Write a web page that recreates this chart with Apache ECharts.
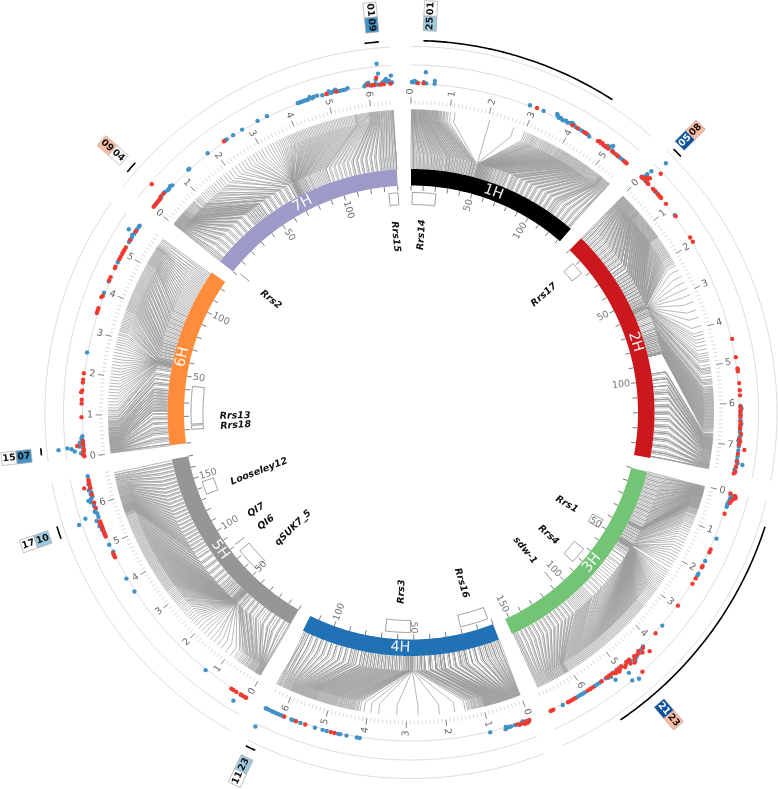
<!DOCTYPE html>
<html><head><meta charset="utf-8">
<style>html,body{margin:0;padding:0;background:#fff}#c{width:778px;height:789px}</style>
<script src="https://cdn.jsdelivr.net/npm/echarts@6/dist/echarts.min.js"></script>
</head><body><div id="c"></div>
<script>
const chrNames=['1H','2H','3H','4H','5H','6H','7H'];
const chrColors=['#000000','#cb181d','#74c476','#2171b5','#969696','#fd8d3c','#9e9ac8'];
const chrMb=[558,768,700,647,670,583,657];
const chrCM=[132,148,153,116,170,126,140];

// markers as [cM, Mb]
const links1H=[[0,1],[1,2],[2,3],[3,5],[4,6],[5,8],[7,9],[8,11],[10,13],[11,15],[13,18],[14,20],[16,22],[18,25],[20,28],[22,32],[24,35],[25,38],[27,41],[29,44],[31,48],[33,52],[35,55],[37,60],[39,64],[41,68],[43,72],[44,78],[45,85],[46,92],[47,114],[48,205],[48,270],[49,305],[49,318],[50,328],[50,335],[51,342],[51,350],[52,356],[52,362],[53,368],[53,373],[54,379],[54,384],[55,390],[56,395],[56,400],[57,404],[58,409],[59,413],[60,417],[61,421],[63,425],[64,429],[66,433],[67,437],[69,441],[70,445],[72,449],[74,453],[76,457],[77,461],[79,465],[81,469],[83,473],[85,477],[87,481],[89,484],[91,488],[93,492],[95,496],[97,500],[99,504],[101,508],[103,512],[105,516],[107,520],[109,523],[111,526],[113,528],[115,530],[117,533],[119,536],[121,539],[123,542],[125,545],[127,548],[129,552],[131,556]];
const links2H=[[0,1],[1,3],[2,5],[3,8],[4,10],[6,12],[7,15],[8,18],[10,21],[11,24],[13,26],[14,29],[16,32],[17,35],[19,38],[20,41],[22,44],[23,48],[25,51],[26,54],[27,57],[29,60],[30,64],[31,68],[33,72],[34,76],[35,80],[36,84],[38,88],[39,92],[40,96],[41,100],[42,104],[43,108],[44,112],[45,116],[46,120],[47,124],[48,128],[49,132],[50,136],[51,140],[52,146],[52,152],[53,158],[53,164],[54,170],[54,176],[55,182],[55,188],[55,194],[56,200],[56,208],[56,216],[57,226],[57,240],[57,258],[57,275],[57,292],[57,310],[57,330],[57,352],[57,372],[57,395],[57,410],[57,418],[57,428],[58,436],[58,446],[59,456],[59,466],[60,478],[60,488],[61,498],[61,505],[62,512],[63,520],[64,528],[65,535],[66,542],[67,548],[68,554],[69,560],[70,565],[71,570],[72,574],[73,578],[73,582],[74,586],[75,590],[75,594],[76,598],[77,602],[77,606],[78,610],[79,614],[79,618],[80,622],[81,626],[81,630],[82,634],[83,638],[83,642],[84,646],[84,650],[85,654],[85,658],[85,662],[85,667],[96,676],[97,679],[99,682],[100,685],[102,688],[104,691],[106,694],[107,697],[109,700],[111,703],[113,706],[115,709],[117,712],[119,715],[121,718],[123,722],[125,726],[127,730],[129,734],[131,738],[133,742],[135,746],[137,750],[139,754],[141,757],[143,760],[145,763],[147,766]];
const links3H=[[0,2],[1,3],[3,5],[4,6],[6,8],[7,9],[9,11],[10,12],[12,13],[13,15],[15,16],[16,17],[18,18],[19,20],[21,22],[22,23],[24,24],[25,26],[27,27],[28,29],[30,30],[31,32],[33,34],[34,36],[36,38],[37,40],[37,43],[37,46],[37,49],[38,52],[38,55],[38,58],[38,61],[39,64],[39,68],[40,72],[41,76],[42,82],[43,88],[44,96],[45,104],[46,114],[47,126],[48,140],[49,156],[50,172],[50,188],[50,204],[50,220],[51,238],[51,250],[51,262],[51,272],[51,282],[51,292],[51,300],[51,308],[51,316],[51,324],[51,332],[51,340],[51,348],[51,354],[51,360],[51,366],[51,372],[51,378],[51,384],[51,390],[51,396],[51,402],[51,408],[51,414],[51,420],[51,426],[52,432],[52,438],[52,444],[52,450],[52,456],[52,462],[53,468],[53,474],[54,480],[55,486],[56,492],[58,498],[60,504],[63,510],[66,516],[70,522],[74,528],[78,534],[82,540],[85,546],[88,552],[91,558],[94,564],[96,570],[98,576],[100,582],[102,588],[104,594],[106,600],[108,606],[111,610],[114,614],[117,618],[120,624],[123,630],[126,636],[129,642],[132,648],[135,654],[138,660],[141,667],[144,674],[147,681],[150,688],[152,696]];
const links4H=[[0,1],[1,3],[2,5],[4,7],[5,10],[6,13],[8,16],[10,19],[11,22],[13,25],[15,28],[16,31],[18,34],[20,37],[22,40],[23,44],[25,47],[27,50],[28,54],[30,57],[31,60],[33,64],[34,68],[36,71],[37,75],[38,79],[40,83],[41,87],[42,92],[44,97],[45,102],[46,108],[47,115],[48,122],[49,130],[50,138],[50,148],[51,175],[51,215],[51,270],[51,325],[51,372],[51,392],[51,410],[52,425],[52,432],[52,438],[53,443],[53,448],[54,453],[54,458],[55,463],[56,468],[57,472],[58,477],[59,482],[60,486],[61,490],[62,494],[63,498],[64,502],[65,506],[66,510],[67,514],[68,518],[69,522],[70,526],[71,530],[72,534],[73,538],[74,541],[75,544],[76,547],[77,550],[78,553],[79,556],[80,559],[82,562],[83,565],[85,568],[86,571],[88,574],[89,577],[91,580],[92,583],[94,586],[95,589],[97,592],[98,595],[100,598],[101,601],[103,604],[104,608],[106,612],[107,616],[109,620],[110,624],[112,628],[113,633],[115,640]];
const links5H=[[0,2],[3,4],[6,6],[9,8],[12,10],[15,12],[18,14],[21,16],[23,18],[26,22],[28,26],[30,30],[32,34],[34,38],[36,43],[38,48],[40,54],[41,60],[42,68],[43,78],[44,95],[45,125],[45,150],[45,172],[45,192],[45,212],[45,228],[45,242],[45,256],[45,268],[45,278],[46,288],[46,296],[46,304],[46,312],[46,320],[46,328],[46,334],[46,340],[46,346],[47,352],[47,358],[47,364],[47,370],[48,376],[48,382],[48,388],[49,394],[49,400],[50,406],[51,412],[52,418],[53,424],[54,430],[55,436],[56,442],[57,448],[58,454],[60,460],[61,466],[63,472],[65,478],[67,484],[69,490],[71,496],[74,502],[76,508],[79,514],[81,520],[84,526],[86,532],[89,538],[92,544],[94,550],[97,555],[100,559],[103,562],[106,565],[109,568],[112,571],[115,574],[118,577],[121,580],[124,584],[127,588],[130,592],[133,596],[136,600],[139,605],[142,610],[145,615],[148,620],[151,625],[154,630],[157,636],[160,642],[163,648],[166,655],[169,665]];
const links6H=[[0,1],[1,3],[3,4],[4,6],[6,7],[8,9],[10,10],[11,12],[13,14],[15,16],[16,18],[18,20],[20,22],[22,25],[24,28],[25,31],[27,34],[29,37],[31,40],[33,44],[35,48],[37,52],[39,56],[41,60],[43,65],[45,70],[47,76],[49,82],[51,90],[53,100],[54,112],[55,126],[55,142],[55,158],[56,174],[56,190],[56,206],[56,222],[56,238],[56,254],[56,270],[56,284],[56,296],[56,308],[57,318],[57,326],[58,334],[58,342],[59,350],[60,358],[61,366],[62,374],[63,380],[64,386],[65,392],[66,398],[67,404],[68,410],[69,416],[70,422],[72,428],[73,434],[75,440],[76,446],[78,452],[79,458],[81,464],[82,470],[84,476],[85,482],[87,488],[88,494],[90,500],[92,506],[94,510],[96,514],[98,518],[100,522],[102,526],[104,530],[106,534],[108,538],[110,542],[112,546],[114,550],[116,553],[118,556],[120,560],[122,566],[124,574],[125,581]];
const links7H=[[0,1],[2,3],[4,5],[6,6],[8,8],[10,10],[12,12],[14,13],[16,15],[18,17],[20,19],[22,21],[24,23],[26,25],[28,27],[30,30],[32,33],[34,36],[36,39],[38,43],[40,47],[42,52],[44,58],[46,64],[48,72],[50,80],[52,90],[54,100],[56,112],[58,124],[60,136],[62,150],[64,165],[66,182],[68,200],[69,220],[70,240],[70,258],[71,275],[71,292],[71,310],[71,326],[71,340],[71,352],[71,362],[71,372],[71,380],[71,388],[72,396],[72,404],[72,412],[72,420],[73,428],[73,436],[74,444],[74,452],[75,460],[76,468],[77,476],[78,484],[79,492],[80,500],[82,508],[83,516],[85,524],[87,532],[89,540],[91,548],[93,556],[96,562],[99,568],[102,574],[105,580],[108,586],[111,592],[114,597],[117,602],[120,607],[123,612],[126,617],[129,622],[131,628],[133,634],[135,640],[137,646],[139,652],[140,656]];
const linksByChr=[links1H,links2H,links3H,links4H,links5H,links6H,links7H];

// further markers as rows: cM followed by the Mb positions sharing that cM
const more1H=[[2,2,4],[6,7,9],[9,10,12],[12,14,16],[15,19,21],[17,23,24],[19,26,27],[21,30,31],[23,33,34],[26,36,37,40],[28,42,43,46],[30,47,50],[32,51,54],[34,56,58],[36,59,62],[38,63,66],[40,67,70],[42,71,75],[44,76,80,84],[46,88,96,102],[49,300,310,314],[50,322,325,331],[51,338,346],[52,352,359],[53,365,371],[54,376,382],[55,387,393],[56,398],[57,402,407],[58,411],[59,415],[60,419],[62,423,427],[65,431,435],[68,439,443],[71,447,451],[75,455,459],[78,463,467],[82,471,475],[86,479,483],[90,486,490],[94,494,498],[98,502,506],[102,510,514],[106,518,521],[110,524,527],[112,529,531],[114,532],[118,534,537],[122,540,544],[126,547,550],[130,553,555,557]];
const more2H=[[1,2,4],[3,6,7,9],[5,11,13],[7,14,16,17],[9,19,20,22],[12,23,25,27],[15,28,30,31],[18,33,34,36,37],[21,39,40,42,43],[24,45,46,47,50],[27,52,53,55,56],[29,58,59,61,62],[31,63,66,67],[33,70,71,74],[35,75,78,79],[37,82,83,86,87],[39,90,91,94,95],[41,98,99,102,103],[43,106,107,110,111],[45,114,115,118,119],[47,122,123,126,127],[49,130,131,134,135],[51,138,139,143],[53,149,155,161],[55,167,173,179,185,191],[56,197,204,212,220],[60,472,484],[62,508,516],[66,538,545],[70,557,562,567],[72,572,576],[74,580,584,588],[76,592,596,600],[78,604,608,612],[80,616,620,624],[82,628,632,636],[84,640,644,648,652],[85,656,660,664,669,672],[96,678,680],[100,683,686,687],[104,689,690,692,693],[108,695,696,698,699],[112,701,702,704,705],[116,707,708,710,711],[120,713,714,716,717],[124,720,721,724,725],[128,728,729,732,733],[132,736,737,740,741],[136,744,745,748,749],[140,752,753,755,756],[144,758,759,761,762],[147,764,765,767]];
const more3H=[[2,1,4],[5,6,7],[8,9,10],[11,11,13],[14,14,16],[17,17,19],[20,21,22],[23,23,25],[26,25,27,28],[29,30,31],[32,33,35],[35,37,39],[37,41,42,44,45,47,48,50],[38,51,53,54,56,57,59,60,62],[39,66,70],[41,74,78],[43,85,92],[45,100,109],[47,120,133],[49,148,164],[50,180,196,212,228],[51,244,256,267,277,287,296,304,312,320,328,336,344,351,357,363,369,375,381,387,393,399,405,411,417,423,429],[52,435,441,447,453,459,465],[53,471,477],[55,483,489],[57,495],[60,501,507],[65,513],[68,519],[72,525],[76,531],[80,537],[84,543],[87,549],[90,555],[93,561],[95,567],[97,573],[99,579],[101,585],[103,591],[105,597],[107,603],[110,608,609],[113,612,613],[116,616,617],[119,621,622],[122,627,628],[125,633,634],[128,639,640],[131,645,646],[134,651,652],[137,657,658],[140,663,664],[143,670,671],[146,677,678],[149,684,685],[151,691,693]];
const more4H=[[1,2,4],[3,6,8],[5,9,11,12],[7,14,15],[9,17,18,20,21],[12,23,24,26,27],[15,29,30,32,33],[18,35,36,38,39],[21,41,42,43,45,46],[24,48,49,51,52,53],[27,55,56,58,59],[30,61,62,63,65,66],[33,67,69,70,72,73],[35,74,76,77,78,80,81],[38,82,84,85,86,88,89,90],[41,91,93,94,95,96,98,100],[44,104,106,110,112],[46,118,120,125,128],[48,134,142],[52,420,428,435,440],[53,445,450],[54,455,460],[55,465],[56,470],[58,474,479],[60,484,488],[62,492,496],[64,500,504],[66,508,512],[68,516,520],[70,524,528],[72,532,536],[74,539,542],[76,545,548],[78,551,554],[80,557,560],[82,563],[84,566,569],[86,572,575],[89,578,581],[92,584,587],[95,590,593],[98,596,599],[101,602,605],[104,606,610],[107,614,618],[110,622,626],[112,630,636],[114,638,643,646]];
const more5H=[[1,3,5],[5,7,9],[10,11,13],[14,15,17],[19,20,24],[25,28,32],[31,36,40],[35,46,50],[39,57,64],[41,72,84],[44,110,138,160],[45,182,202,220,235,249,262,273,283],[46,292,300,308,316,324,331,337,343,349],[47,355,361,367,373],[48,379,385,391],[49,397,403],[50,409],[52,415,421],[53,427],[55,433,439],[57,445,451],[59,457,463],[62,469,475],[66,481,487],[70,493,499],[75,505,511],[80,517,523],[85,529,535],[90,541,547],[95,552,553],[98,557,558],[101,560,561],[104,563,564],[107,566,567],[110,569,570],[113,572,573],[116,575,576],[119,578,579],[122,582,583],[125,586,587],[128,590,591],[131,594,595],[134,598,599],[137,602,603],[140,607,608],[143,612,613],[146,617,618],[149,622,623],[152,627,628],[155,633,634],[158,639,640],[161,645,646],[164,651,652],[167,658,660]];
const more6H=[[1,2,5],[5,8,9],[9,11,13],[12,15,17],[16,19,21],[19,23,24],[22,26,27],[24,29,30,32],[26,33,35,36],[28,38,39,41],[30,42,43,46],[32,47,50,51],[34,53,54,58],[36,59,62,63],[38,66,67,72],[42,74,78,80],[45,84,86],[48,94,96],[52,105,110],[54,118,134],[55,150,166],[56,182,198,214,230,246,262,277,290,302],[57,312,322,330],[58,338,346],[59,354,362],[61,370,377],[63,383,389],[65,395,401],[67,407,413],[69,419,425],[71,431,437],[74,443,449],[77,455,461],[80,467,473],[83,479,485],[86,491,497],[89,503],[91,508,512],[93,516],[95,520],[97,524],[99,528],[101,532],[103,536],[105,540],[107,544],[109,548],[111,551],[113,554],[115,555],[117,558],[119,563],[121,570],[123,578]];
const more7H=[[1,2,4],[3,6,7],[7,9,11],[11,14,16],[15,18,20],[19,22,24],[23,26,28],[27,29,31,32],[31,34,35,37],[35,38,41,42],[37,45,46,49],[39,50,54,55],[41,60,61,66],[43,68,70,74],[45,76,78,85],[49,88,94,96],[53,106,118],[57,130,142],[61,158,172],[65,190,210],[68,230,248],[70,266,283],[71,300,318,333,346,357,367,376,384,392],[72,400,408,416,424],[73,432,440],[74,448,456],[75,464],[76,472],[77,480],[78,488],[79,496],[81,504],[82,512],[84,520],[86,528],[88,536],[90,544],[92,552],[94,558,560],[97,565],[100,571],[103,577],[106,583],[109,589],[112,594,595],[115,599,600],[118,604,605],[121,609,610],[124,614,615],[127,619,620],[130,625,626],[132,631,632],[134,637,638],[136,643,644],[138,649,650],[140,654,655,657]];
const moreByChr=[more1H,more2H,more3H,more4H,more5H,more6H,more7H];

const blue1H=[[2,1],[5,1],[8,2],[12,1],[14,0],[30,1],[36,0],[34,11],[56,3],[56,0],[288,0],[323,0],[355,3],[357,2],[360,1],[363,0],[367,1],[371,0],[375,0],[381,1],[386,0],[392,1],[397,2],[403,1],[408,0],[417,0],[425,0],[434,0],[441,0],[447,-1],[495,2],[502,3],[506,5],[511,1],[517,0],[528,0],[536,0],[543,0]];
const red1H=[[17,0],[30,0],[306,0],[399,0],[413,0],[431,0],[437,0],[470,0],[474,1],[478,0],[482,1],[486,0],[490,0],[494,0],[500,0],[512,0],[522,0],[530,0],[548,0],[552,0],[556,0]];
const blue2H=[[4,2],[6,6],[8,11],[9,3],[12,1],[18,27],[14,0],[45,0],[50,0],[55,0],[121,0],[606,0],[612,1],[620,0],[628,0],[640,0],[648,1],[655,0],[662,0],[668,0],[675,1],[680,0],[688,-1],[695,0],[702,0],[712,0],[726,0],[735,0],[742,1],[744,6],[752,0],[758,-1],[764,0]];
const red2H=[[1,0],[5,0],[9,1],[12,4],[15,2],[17,5],[20,0],[24,0],[27,16],[40,0],[47,0],[58,0],[62,0],[66,0],[69,0],[87,0],[124,0],[185,0],[197,0],[446,0],[490,0],[517,0],[520,0],[524,0],[552,0],[569,0],[581,0],[608,0],[616,0],[625,0],[632,0],[644,0],[652,0],[660,0],[672,1],[684,0],[690,1],[698,0],[709,6],[720,0],[738,0],[750,0],[762,0],[767,-1]];
const blue3H=[[6,1],[12,2],[15,1],[20,1],[26,0],[30,0],[35,0],[114,1],[173,0],[207,0],[212,0],[357,0],[424,0],[432,1],[442,2],[452,3],[460,5],[468,2],[475,1],[490,10],[481,21],[495,18],[501,0],[510,1],[518,0],[524,7],[528,2],[535,1],[540,0],[558,0],[565,0],[572,0],[600,0],[606,0],[612,0],[618,0],[624,0],[660,0]];
const red3H=[[2,0],[5,5],[8,6],[11,6],[14,4],[18,3],[24,2],[52,0],[143,0],[150,0],[186,0],[190,0],[220,0],[235,0],[297,0],[381,0],[421,8],[427,1],[435,4],[440,0],[447,2],[455,1],[458,3],[464,6],[465,18],[470,0],[473,4],[478,0],[484,2],[488,3],[494,0],[499,1],[505,3],[508,0],[514,2],[520,0],[526,0],[531,0],[537,0],[552,0],[578,0],[585,0],[592,0],[628,0],[634,0],[640,0],[646,0],[685,0],[689,0],[692,0]];
const blue4H=[[4,1],[8,0],[12,1],[18,-1],[22,0],[28,1],[38,0],[48,0],[54,0],[60,-1],[62,1],[99,0],[410,0],[417,0],[442,0],[457,0],[462,0],[490,0],[500,0],[519,0],[555,0],[573,0],[578,0],[600,0],[606,0],[612,0],[618,0],[624,0],[628,0],[634,0],[640,0],[644,0],[647,21]];
const red4H=[[2,0],[5,1],[8,2],[11,0],[14,2],[18,1],[25,1],[32,0],[471,0],[480,0],[543,0],[566,0],[596,0]];
const blue5H=[[27,9],[18,0],[121,0],[373,0],[409,0],[472,0],[480,-1],[499,0],[528,0],[538,1],[544,0],[548,2],[556,1],[566,21],[562,3],[575,13],[570,0],[578,0],[584,2],[590,0],[598,1],[604,0],[608,3],[612,5],[615,2],[620,0],[626,1],[630,0],[636,2],[642,0],[650,1],[669,0]];
const red5H=[[5,0],[8,0],[14,0],[20,0],[32,0],[40,0],[46,0],[466,0],[470,0],[476,0],[520,0],[524,0],[528,0],[532,0],[536,0],[540,0],[543,0],[546,0],[550,0],[554,0],[558,0],[592,0],[605,0],[625,0],[640,0],[643,6],[648,0],[652,0],[656,0],[660,0]];
const blue6H=[[23,25],[25,16],[22,12],[16,9],[26,4],[35,3],[10,3],[6,1],[12,1],[18,0],[26,0],[32,0],[40,0],[45,1],[50,0],[249,0],[396,0],[425,0],[475,0],[530,0],[536,0],[542,0],[548,1],[552,0],[555,7],[558,0],[565,0],[572,0],[576,0]];
const red6H=[[2,0],[7,1],[14,0],[20,0],[28,6],[30,0],[38,0],[95,0],[127,0],[136,0],[158,0],[154,1],[177,0],[184,0],[199,0],[345,0],[351,0],[357,0],[384,1],[388,0],[428,0],[436,0],[460,0],[463,0],[483,0],[490,0],[498,0],[503,0],[508,0],[515,0],[535,0],[560,0]];
const blue7H=[[10,0],[16,0],[30,0],[36,1],[48,1],[55,0],[60,0],[66,1],[71,0],[124,0],[127,0],[184,0],[236,0],[240,0],[258,0],[283,0],[325,0],[350,0],[429,0],[433,0],[437,0],[441,0],[445,0],[450,0],[455,0],[460,2],[465,0],[470,1],[478,1],[490,0],[503,0],[507,2],[512,0],[518,1],[523,2],[529,0],[535,0],[541,0],[546,0],[552,1],[592,0],[597,2],[602,3],[606,0],[612,0],[618,1],[620,5],[624,0],[626,21],[627,11],[632,0],[636,2],[640,3],[644,5],[648,2],[651,3],[656,8],[658,1]];
const red7H=[[4,0],[8,0],[14,0],[20,0],[24,0],[28,0],[32,1],[41,16],[43,1],[232,0],[500,0],[524,0],[600,1],[610,0],[616,0],[622,7],[630,0],[638,0],[654,0]];
const blueDots=[blue1H,blue2H,blue3H,blue4H,blue5H,blue6H,blue7H];
const redDots=[red1H,red2H,red3H,red4H,red5H,red6H,red7H];

// QTL: chromosome index, start cM, end cM
const qtlChr=[0,6,1,2,2,2,3,3,4,4,4,5,5,6];
const qtlFrom=[1,133,8,45,72,107,2,52,52,81,133,14,10,2];
const qtlTo=[21,140,17,52,85,107,20,68,74,81,145,43,13,2];
// gene labels and their placing (degrees clockwise from north, radius)
const geneNames=['Rrs14','Rrs15','Rrs17','Rrs1','Rrs4','sdw-1','Rrs16','Rrs3','qSUK7_5','QI6','QI7','Looseley12','Rrs18','Rrs13','Rrs2'];
const geneAngle=[3.4,355,48.5,120.5,131.7,140.4,163.5,183,225.6,232.8,237.8,248.8,265.8,268.9,308.8];
const geneRadius=[178,176.5,177.5,180.7,184,179,178,179.4,165,182,183,163,175.8,176,180];
// black arcs: chromosome, from Mb, to Mb
const arcChr=[0,1,2,3,4,5,6,6];
const arcFrom=[26,8,52,625,551,16,26,605];
const arcTo=[446,30,567,647,578,31,52,635];
// coloured pair boxes on the rim
const pairAngle=[2.8,45.2,139.5,205.4,251,263.5,311.3,354.2];
const pairRadius=[397,393.5,397,397,397,397,397,397];
const pairOuter=['01','08','23','11','17','15','09','01'];
const pairInner=['25','05','21','23','10','07','04','09'];
const pairOuterFill=['#ffffff','#fcbba1','#fcbba1','#ffffff','#ffffff','#ffffff','#fcbba1','#ffffff'];
const pairInnerFill=['#9ecae1','#08519c','#08519c','#9ecae1','#9ecae1','#4292c6','#ffffff','#4292c6'];

const GAP=3.3, DEG_PER_MB=0.0735;
const chrStart=[]; {let a=0; chrMb.forEach(m=>{chrStart.push(a); a+=m*DEG_PER_MB+GAP;});}
const angMb=(c,mb)=>chrStart[c]+mb*DEG_PER_MB;
const angCM=(c,cm)=>chrStart[c]+cm*(chrMb[c]*DEG_PER_MB/chrCM[c]);
const R={bandIn:227,bandOut:243.5,k1:258,k2:293,lkEnd:303,minIn:308,minOut:312,majIn:309,majOut:315.5,mbLab:318,base:329.5,ring2:347.5,ring3:366,hi:372,cmTick:222,cmLab:221,qIn:208,qOut:220};
const rad=d=>d*Math.PI/180;
const radialRot=t=>rad(t<180?90-t:270-t);
const FONT='"DejaVu Sans"';

function seriesCustom(data,render,z){
  return {type:'custom',coordinateSystem:'polar',data:data,renderItem:render,silent:true,animation:false,z:z||2,clip:false};
}
function idx(n){const o=[];for(let i=0;i<n;i++)o.push([i]);return o;}
function arcPts(api,r,a0,a1){const n=Math.max(2,Math.ceil(Math.abs(a1-a0)/0.5));const p=[];for(let i=0;i<=n;i++)p.push(api.coord([r,a0+(a1-a0)*i/n]));return p;}

const linkData=[];
linksByChr.forEach((arr,c)=>arr.forEach(d=>linkData.push([c,d[0],d[1]])));
moreByChr.forEach((rows,c)=>rows.forEach(row=>row.slice(1).forEach(mb=>linkData.push([c,row[0],mb]))));
const mbTicks=[];chrMb.forEach((m,c)=>{for(let v=0;v<=m;v+=10)mbTicks.push([c,v,m]);});
const cmTicks=[];chrCM.forEach((m,c)=>{for(let v=0;v<=m;v+=10)cmTicks.push([c,v]);});

const series=[
 seriesCustom(idx(21),(p,api)=>{ // rings
   const i=api.value(0),c=i%7,r=[R.base-1,R.ring2,R.ring3][Math.floor(i/7)];
   return {type:'polyline',shape:{points:arcPts(api,r,chrStart[c],angMb(c,chrMb[c]))},style:{stroke:'#dcdcdc',lineWidth:1,fill:null}};
 },1),
 seriesCustom(linkData,(p,api)=>{
   const c=api.value(0),a=angCM(c,api.value(1)),b=angMb(c,api.value(2));
   return {type:'polyline',shape:{points:[api.coord([R.bandOut,a]),api.coord([R.k1,a]),api.coord([R.k2,b]),api.coord([R.lkEnd,b])]},style:{stroke:'#9c9c9c',lineWidth:0.9,opacity:0.8,fill:null}};
 },2),
 seriesCustom(idx(7),(p,api)=>{ // bands
   const c=api.value(0),a0=chrStart[c],a1=angMb(c,chrMb[c]);
   const pts=arcPts(api,R.bandOut,a0,a1).concat(arcPts(api,R.bandIn,a1,a0));
   const mid=(a0+a1)/2,cp=api.coord([(R.bandIn+R.bandOut)/2,mid]);
   const bottom=mid>90&&mid<270;
   return {type:'group',children:[
     {type:'polygon',shape:{points:pts},style:{fill:chrColors[c]}},
     {type:'text',x:cp[0],y:cp[1],rotation:rad(bottom?180-mid:-mid),style:{text:chrNames[c],fill:'#fff',font:'14.5px '+FONT,align:'center',verticalAlign:'middle',opacity:0.92}}
   ]};
 },3),
 seriesCustom(mbTicks,(p,api)=>{
   const c=api.value(0),v=api.value(1),a=angMb(c,v),maj=v%100===0,last=v>=api.value(2);
   const kids=[{type:'line',shape:(()=>{const s=api.coord([maj&&!last?R.majIn:R.minIn,a]),e=api.coord([maj&&!last?R.majOut:R.minOut,a]);return {x1:s[0],y1:s[1],x2:e[0],y2:e[1]};})(),style:{stroke:maj&&!last?'#777':'#cfcfcf',lineWidth:maj&&!last?0.9:0.8}}];
   if(maj&&!last){const q=api.coord([R.mbLab,a]);kids.push({type:'text',x:q[0],y:q[1],rotation:radialRot(a),style:{text:String(v/100),fill:'#666',font:'9.5px '+FONT,align:a<180?'left':'right',verticalAlign:'middle'}});}
   return {type:'group',children:kids};
 },3),
 seriesCustom(idx(qtlChr.length),(p,api)=>{
   const i=api.value(0),c=qtlChr[i],a0=angCM(c,qtlFrom[i]),a1=angCM(c,qtlTo[i]);
   if(a0===a1){const s=api.coord([R.qIn,a0]),e=api.coord([R.qOut,a0]);return {type:'line',shape:{x1:s[0],y1:s[1],x2:e[0],y2:e[1]},style:{stroke:'#888',lineWidth:0.9}};}
   return {type:'polygon',shape:{points:arcPts(api,R.qOut,a0,a1).concat(arcPts(api,R.qIn,a1,a0))},style:{stroke:'#888',lineWidth:0.8,fill:null}};
 },3),
 seriesCustom(cmTicks,(p,api)=>{
   const c=api.value(0),v=api.value(1),a=angCM(c,v);
   const s=api.coord([R.bandIn,a]),e=api.coord([R.cmTick,a]);
   const kids=[{type:'line',shape:{x1:s[0],y1:s[1],x2:e[0],y2:e[1]},style:{stroke:'#444',lineWidth:0.7}}];
   if(v>0&&v%50===0){const q=api.coord([R.cmLab,a]);kids.push({type:'text',x:q[0],y:q[1],rotation:radialRot(a),style:{text:String(v),fill:'#777',font:'9.5px '+FONT,align:a<180?'right':'left',verticalAlign:'middle'}});}
   return {type:'group',children:kids};
 },3),
 seriesCustom(idx(geneNames.length),(p,api)=>{
   const i=api.value(0),a=geneAngle[i],q=api.coord([geneRadius[i],a]);
   return {type:'text',x:q[0],y:q[1],rotation:radialRot(a),style:{text:geneNames[i],fill:'#111',font:'italic bold 9.5px '+FONT,align:'center',verticalAlign:'middle'}};
 },4),
 seriesCustom(idx(arcChr.length),(p,api)=>{
   const i=api.value(0),c=arcChr[i];
   return {type:'polyline',shape:{points:arcPts(api,R.hi,angMb(c,arcFrom[i]),angMb(c,arcTo[i]))},style:{stroke:'#000',lineWidth:1.6,fill:null}};
 },4),
 seriesCustom(idx(pairAngle.length),(p,api)=>{
   const i=api.value(0),a=pairAngle[i],q=api.coord([pairRadius[i],a]),right=a<180,w=15,h=13;
   const firstT=right?pairInner[i]:pairOuter[i],secondT=right?pairOuter[i]:pairInner[i];
   const firstF=right?pairInnerFill[i]:pairOuterFill[i],secondF=right?pairOuterFill[i]:pairInnerFill[i];
   const col=f=>f==='#08519c'?'#fff':'#111';
   return {type:'group',x:q[0],y:q[1],rotation:radialRot(a),children:[
     {type:'rect',shape:{x:-w,y:-h/2,width:w,height:h},style:{fill:firstF,stroke:'#aaa',lineWidth:0.7}},
     {type:'rect',shape:{x:0,y:-h/2,width:w,height:h},style:{fill:secondF,stroke:'#aaa',lineWidth:0.7}},
     {type:'text',x:-w/2,y:0,style:{text:firstT,fill:col(firstF),font:'bold 9.5px '+FONT,align:'center',verticalAlign:'middle'}},
     {type:'text',x:w/2,y:0,style:{text:secondT,fill:col(secondF),font:'bold 9.5px '+FONT,align:'center',verticalAlign:'middle'}}
   ]};
 },4)
];
const toPolar=(sets)=>{const o=[];sets.forEach((arr,c)=>arr.forEach(d=>o.push([R.base+d[1],angMb(c,d[0])])));return o;};
series.push({type:'scatter',coordinateSystem:'polar',data:toPolar(blueDots),symbolSize:4.4,itemStyle:{color:'#4292c6',opacity:1},silent:true,animation:false,z:5,clip:false});
series.push({type:'scatter',coordinateSystem:'polar',data:toPolar(redDots),symbolSize:4.4,itemStyle:{color:'#f03b30',opacity:1},silent:true,animation:false,z:5,clip:false});

const chart=echarts.init(document.getElementById('c'),null,{renderer:'canvas',width:778,height:789});
chart.setOption({
  animation:false,backgroundColor:'#fff',
  polar:{center:[411,412.5],radius:[0,420]},
  angleAxis:{type:'value',min:0,max:360,startAngle:90,clockwise:true,show:false},
  radiusAxis:{type:'value',min:0,max:420,show:false},
  tooltip:{show:false},
  series:series
});
</script></body></html>
